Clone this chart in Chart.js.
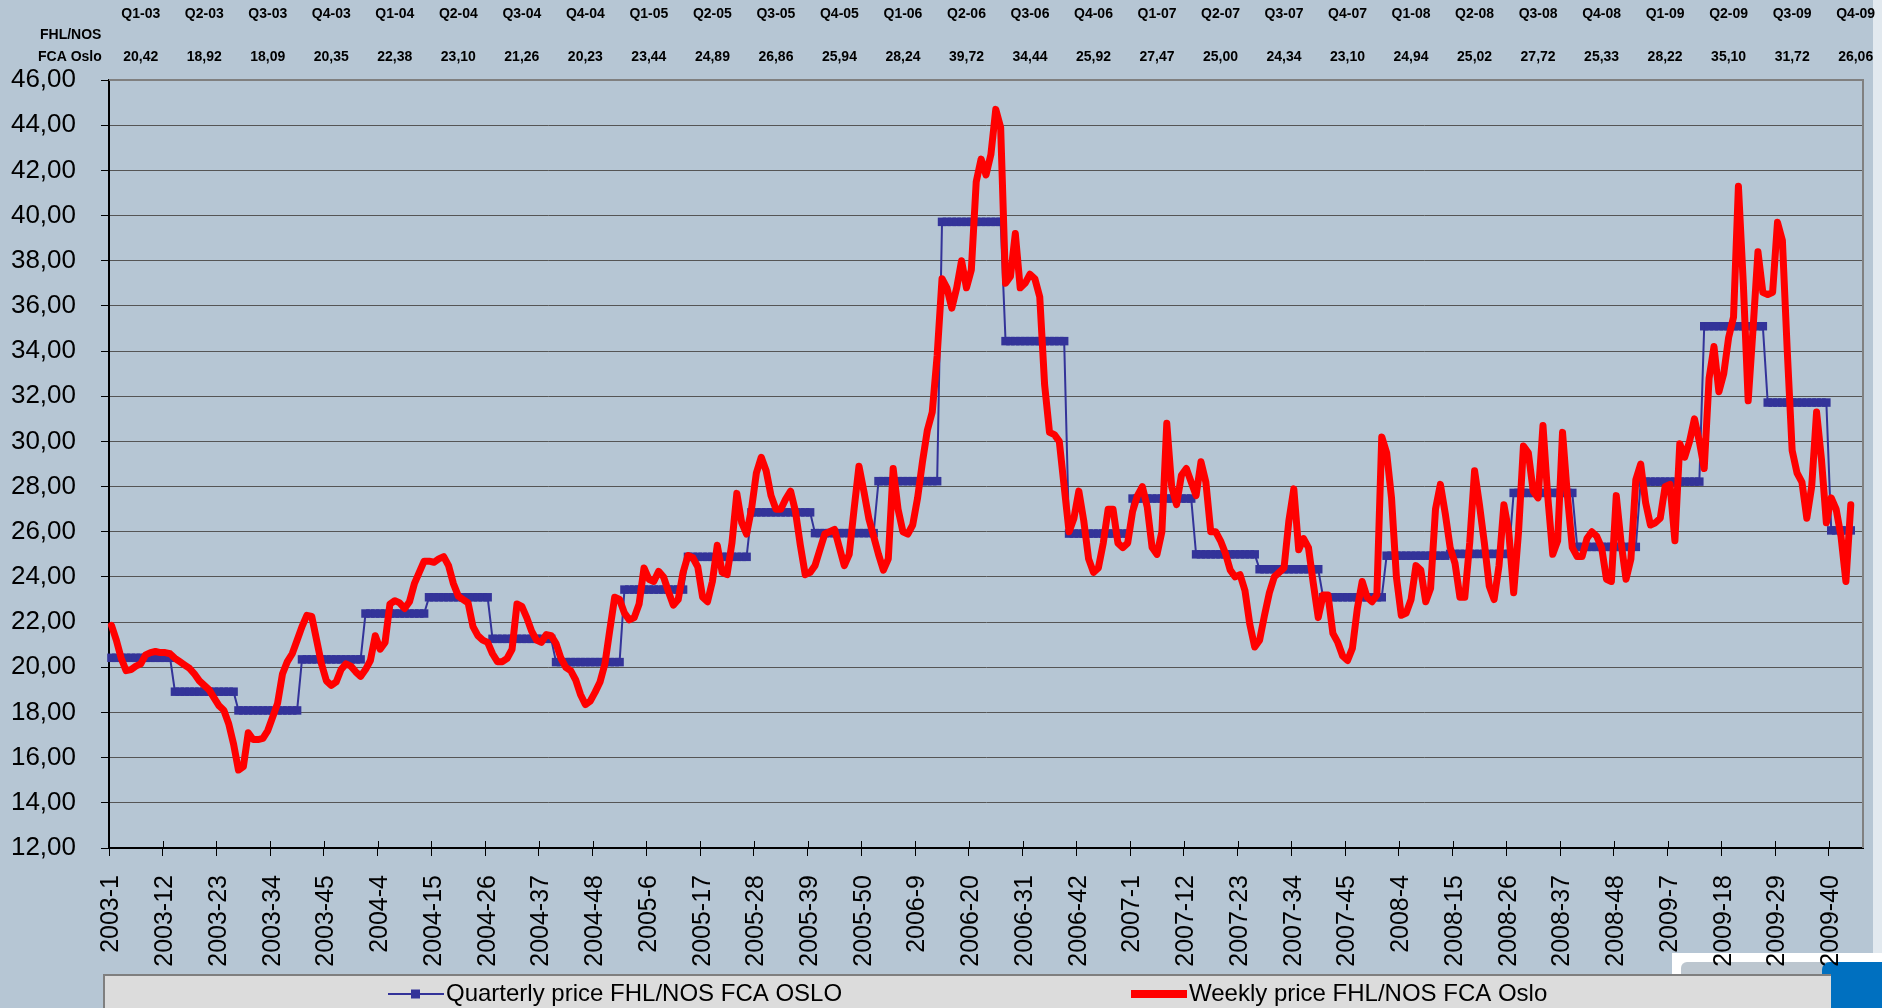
<!DOCTYPE html>
<html>
<head>
<meta charset="utf-8">
<title>FHL/NOS FCA Oslo prices</title>
<script src="https://cdn.jsdelivr.net/npm/chart.js@4.4.1/dist/chart.umd.min.js"></script>
<style>
    html, body { margin: 0; padding: 0; background: #B6C6D4; }
    #wrap { position: relative; width: 1882px; height: 1008px; overflow: hidden; }
</style>
</head>
<body>
<div id="wrap"><canvas id="chart" width="1882" height="1008"></canvas></div>
<script>
// Years on the axis and how many weeks each one has (2009 runs to week 46)
const years = [2003, 2004, 2005, 2006, 2007, 2008, 2009];
const weeksInYear = [52, 53, 52, 52, 52, 52, 46];

// Quarterly price (table at the top of the chart)
const quarterLabels = [
    'Q1-03', 'Q2-03', 'Q3-03', 'Q4-03', 'Q1-04', 'Q2-04', 'Q3-04', 'Q4-04',
    'Q1-05', 'Q2-05', 'Q3-05', 'Q4-05', 'Q1-06', 'Q2-06', 'Q3-06', 'Q4-06',
    'Q1-07', 'Q2-07', 'Q3-07', 'Q4-07', 'Q1-08', 'Q2-08', 'Q3-08', 'Q4-08',
    'Q1-09', 'Q2-09', 'Q3-09', 'Q4-09'
];
const quarterlyPrices = [
    20.42, 18.92, 18.09, 20.35, 22.38, 23.10, 21.26, 20.23,
    23.44, 24.89, 26.86, 25.94, 28.24, 39.72, 34.44, 25.92,
    27.47, 25.00, 24.34, 23.10, 24.94, 25.02, 27.72, 25.33,
    28.22, 35.10, 31.72, 26.06
];
// quarters follow week numbers: Q1 = weeks 1-13, Q2 = 14-26, Q3 = 27-39, Q4 = 40-end
const weeksPerQuarter = 13;

// Weekly price
const weekly2003 = [
    21.86, 21.2, 20.4, 19.85, 19.9, 20.05, 20.15, 20.55, 20.65, 20.7,
    20.65, 20.65, 20.6, 20.4, 20.25, 20.1, 19.95, 19.7, 19.4, 19.2,
    19.0, 18.65, 18.3, 18.1, 17.5, 16.6, 15.45, 15.6, 17.1, 16.8,
    16.8, 16.85, 17.2, 17.8, 18.4, 19.7, 20.25, 20.6, 21.2, 21.8,
    22.3, 22.25, 21.2, 20.15, 19.4, 19.2, 19.35, 19.9, 20.15, 20.05,
    19.8, 19.6
];
const weekly2004 = [
    19.9, 20.3, 21.4, 20.8, 21.1, 22.8, 22.95, 22.85, 22.6, 22.9,
    23.7, 24.2, 24.7, 24.7, 24.65, 24.8, 24.9, 24.5, 23.7, 23.15,
    23.0, 22.85, 21.8, 21.4, 21.2, 21.1, 20.6, 20.25, 20.25, 20.4,
    20.8, 22.8, 22.7, 22.2, 21.6, 21.2, 21.1, 21.45, 21.4, 21.05,
    20.4, 20.0, 19.85, 19.45, 18.8, 18.35, 18.5, 18.9, 19.35, 20.15,
    21.65, 23.1, 23.0
];
const weekly2005 = [
    22.4, 22.1, 22.2, 22.8, 24.4, 23.9, 23.8, 24.25, 24.0, 23.35,
    22.75, 23.0, 24.2, 24.95, 24.85, 24.45, 23.1, 22.9, 23.8, 25.4,
    24.2, 24.1, 25.5, 27.7, 26.4, 25.9, 27.0, 28.6, 29.3, 28.7,
    27.6, 27.0, 27.0, 27.45, 27.8, 26.9, 25.4, 24.1, 24.2, 24.5,
    25.2, 25.9, 26.0, 26.1, 25.3, 24.5, 25.0, 27.0, 28.9, 27.8,
    26.6, 25.8
];
const weekly2006 = [
    25.0, 24.3, 24.8, 28.8, 27.0, 26.0, 25.9, 26.3, 27.5, 29.1,
    30.5, 31.3, 33.8, 37.2, 36.8, 35.9, 36.8, 38.0, 36.8, 37.6,
    41.5, 42.5, 41.8, 42.7, 44.7, 43.9, 37.0, 37.3, 39.2, 36.8,
    37.0, 37.4, 37.2, 36.4, 32.5, 30.4, 30.3, 30.0, 28.0, 26.0,
    26.6, 27.8, 26.5, 24.8, 24.2, 24.4, 25.5, 27.0, 27.0, 25.5,
    25.3, 25.5
];
const weekly2007 = [
    26.9, 27.6, 28.0, 27.1, 25.3, 25.0, 26.0, 30.8, 28.0, 27.2,
    28.5, 28.8, 28.2, 27.6, 29.1, 28.2, 26.0, 26.0, 25.6, 25.05,
    24.3, 24.0, 24.1, 23.4, 21.9, 20.9, 21.2, 22.3, 23.3, 24.0,
    24.2, 24.4, 26.5, 27.9, 25.2, 25.7, 25.3, 23.7, 22.2, 23.2,
    23.2, 21.5, 21.1, 20.5, 20.3, 20.85, 22.6, 23.8, 23.1, 22.9,
    23.2, 30.2
];
const weekly2008 = [
    29.5, 27.5, 24.0, 22.3, 22.4, 23.0, 24.5, 24.3, 22.9, 23.5,
    27.0, 28.1, 26.8, 25.3, 24.6, 23.1, 23.1, 25.5, 28.7, 27.2,
    25.5, 23.6, 23.0, 24.5, 27.2, 26.0, 23.3, 26.0, 29.8, 29.5,
    27.8, 27.5, 30.7, 27.5, 25.0, 25.6, 30.4, 27.6, 25.3, 24.9,
    24.9, 25.7, 26.0, 25.8, 25.3, 23.9, 23.8, 27.6, 25.5, 23.9,
    24.8, 28.3
];
const weekly2009 = [
    29.0, 27.3, 26.3, 26.4, 26.6, 28.0, 28.1, 25.6, 29.9, 29.3,
    30.0, 31.0, 30.0, 28.8, 32.8, 34.2, 32.2, 33.0, 34.6, 35.5,
    41.3, 37.0, 31.8, 35.0, 38.4, 36.6, 36.5, 36.6, 39.7, 38.9,
    34.0, 29.6, 28.6, 28.2, 26.6, 28.0, 31.3, 29.2, 26.4, 27.5,
    27.0, 25.8, 23.8, 27.2
];

const weeklyPrices = [
    ...weekly2003, ...weekly2004, ...weekly2005, ...weekly2006,
    ...weekly2007, ...weekly2008, ...weekly2009
];

// Category labels "2003-1" ... "2009-46"
const weekLabels = years.flatMap((year, k) =>
    Array.from({ length: weeksInYear[k] }, (_, w) => `${year}-${w + 1}`)
);

// Quarterly line: each week carries the price of its quarter
const quarterlyByWeek = weekLabels.slice(0, weeklyPrices.length).map((label) => {
    const [year, week] = label.split('-').map(Number);
    const q = Math.min(3, Math.floor((week - 1) / weeksPerQuarter));
    return quarterlyPrices[(year - years[0]) * 4 + q];
});

// Colours / fonts
const BG = '#B6C6D4';
const NAVY = '#333399';
const RED = '#FF0000';
const FONT = "'Liberation Sans', Arial, sans-serif";
const LABEL_STEP = 11;

const formatPrice = (v) => v.toFixed(2).replace('.', ',');

// Background, slide decorations and legend box
const backdropPlugin = {
    id: 'backdrop',
    beforeDraw(chart) {
        const ctx = chart.ctx;
        ctx.save();
        ctx.fillStyle = BG;
        ctx.fillRect(0, 0, chart.width, chart.height);

        // light strip on the right edge
        ctx.fillStyle = '#E2E9EF';
        ctx.fillRect(1873, 0, 9, 953);

        // white panel + grey tab + blue corner at the bottom right
        ctx.fillStyle = '#FFFFFF';
        ctx.fillRect(1672, 953, 210, 55);
        ctx.fillStyle = '#BCC6CF';
        ctx.beginPath();
        ctx.roundRect(1681, 962, 160, 40, 6);
        ctx.fill();
        ctx.fillStyle = '#0070C0';
        ctx.beginPath();
        ctx.roundRect(1822, 962, 70, 60, [8, 0, 0, 0]);
        ctx.fill();

        // legend box
        ctx.fillStyle = '#DCDCDC';
        ctx.fillRect(104, 975, 1727, 40);
        ctx.strokeStyle = '#7F7F7F';
        ctx.lineWidth = 2;
        ctx.beginPath();
        ctx.moveTo(104, 1008);
        ctx.lineTo(104, 975);
        ctx.lineTo(1831, 975);
        ctx.stroke();
        ctx.restore();
    },
    beforeDatasetsDraw(chart) {
        // grey frame on top and right of the plot area
        const { ctx, chartArea: a } = chart;
        const x = chart.scales.x;
        ctx.save();
        ctx.strokeStyle = '#808080';
        ctx.lineWidth = 2;
        ctx.beginPath();
        ctx.moveTo(a.left, a.top);
        ctx.lineTo(a.right, a.top);
        ctx.lineTo(a.right, a.bottom);
        ctx.stroke();

        // category tick marks also reach a little above the axis
        const half = (x.getPixelForValue(1) - x.getPixelForValue(0)) / 2;
        ctx.strokeStyle = '#000';
        ctx.lineWidth = 1;
        ctx.beginPath();
        for (let i = 0; i < weekLabels.length; i += LABEL_STEP) {
            const px = Math.round(x.getPixelForValue(i) - half) + 0.5;
            ctx.moveTo(px, a.bottom - 7);
            ctx.lineTo(px, a.bottom);
        }
        ctx.stroke();
        ctx.restore();
    }
};

// Quarter table above the plot, one column every 13 weeks
const tablePlugin = {
    id: 'quarterTable',
    afterDraw(chart) {
        const ctx = chart.ctx;
        const x = chart.scales.x;
        ctx.save();
        ctx.fillStyle = '#000';
        ctx.font = `bold 14px ${FONT}`;
        ctx.textBaseline = 'middle';
        ctx.textAlign = 'left';
        ctx.fillText('FHL/NOS', 40, 35);
        ctx.fillText('FCA Oslo', 38, 57);
        ctx.textAlign = 'center';
        quarterLabels.forEach((q, k) => {
            const px = x.getPixelForValue(k * weeksPerQuarter + 6);
            ctx.fillText(q, px, 14);
            ctx.fillText(formatPrice(quarterlyPrices[k]), px, 57);
        });
        ctx.restore();
    }
};

// Legend drawn in the grey box at the bottom
const legendPlugin = {
    id: 'bottomLegend',
    afterDraw(chart) {
        const ctx = chart.ctx;
        const y = 994;
        const quarterly = chart.data.datasets[1];
        const weekly = chart.data.datasets[0];
        ctx.save();
        ctx.strokeStyle = NAVY;
        ctx.lineWidth = 2;
        ctx.beginPath();
        ctx.moveTo(388, y);
        ctx.lineTo(444, y);
        ctx.stroke();
        ctx.fillStyle = NAVY;
        ctx.fillRect(411, y - 4.5, 9, 9);

        ctx.strokeStyle = RED;
        ctx.lineWidth = 8;
        ctx.beginPath();
        ctx.moveTo(1131, y);
        ctx.lineTo(1187, y);
        ctx.stroke();

        ctx.fillStyle = '#000';
        ctx.font = `24px ${FONT}`;
        ctx.textBaseline = 'middle';
        ctx.textAlign = 'left';
        ctx.fillText(quarterly.label, 446, y);
        ctx.fillText(weekly.label, 1189, y);
        ctx.restore();
    }
};

new Chart(document.getElementById('chart'), {
    type: 'line',
    data: {
        labels: weekLabels,
        datasets: [
            {
                label: 'Weekly price FHL/NOS FCA Oslo',
                data: weeklyPrices,
                borderColor: RED,
                borderWidth: 7,
                pointRadius: 0,
                tension: 0,
                borderJoinStyle: 'round',
                borderCapStyle: 'round',
                order: 0
            },
            {
                label: 'Quarterly price FHL/NOS FCA OSLO',
                data: quarterlyByWeek,
                borderColor: NAVY,
                borderWidth: 2,
                pointStyle: 'rect',
                pointRadius: 6,
                pointBackgroundColor: NAVY,
                pointBorderColor: NAVY,
                pointBorderWidth: 0,
                tension: 0,
                order: 1
            }
        ]
    },
    options: {
        responsive: false,
        animation: false,
        events: [],
        layout: { padding: { left: 10, right: 19, top: 80, bottom: 0 } },
        plugins: {
            legend: { display: false },
            tooltip: { enabled: false }
        },
        scales: {
            x: {
                type: 'category',
                offset: true,
                afterFit: (s) => {
                    s.height = 160;
                    s.paddingLeft = 0;
                    s.paddingRight = 0;
                },
                grid: {
                    offset: true,
                    drawOnChartArea: false,
                    drawTicks: true,
                    tickLength: 8,
                    tickWidth: 1,
                    color: 'rgba(0,0,0,0)',
                    tickColor: (c) => (c.index % LABEL_STEP === 0 ? '#000' : 'rgba(0,0,0,0)')
                },
                border: { display: true, color: '#000', width: 2 },
                ticks: {
                    autoSkip: false,
                    minRotation: 90,
                    maxRotation: 90,
                    padding: 19,
                    color: '#000',
                    font: { family: FONT, size: 25 },
                    callback: function (value, index) {
                        return index % LABEL_STEP === 0 ? this.getLabelForValue(value) : '';
                    }
                }
            },
            y: {
                min: 12,
                max: 46,
                afterFit: (s) => { s.width = 99; },
                grid: {
                    color: '#555',
                    lineWidth: 1,
                    drawTicks: true,
                    tickLength: 8,
                    tickColor: '#000'
                },
                border: { display: true, color: '#000', width: 2 },
                ticks: {
                    stepSize: 2,
                    padding: 25,
                    color: '#000',
                    font: { family: FONT, size: 26 },
                    callback: (v) => formatPrice(v)
                }
            }
        }
    },
    plugins: [backdropPlugin, tablePlugin, legendPlugin]
});
</script>
</body>
</html>
